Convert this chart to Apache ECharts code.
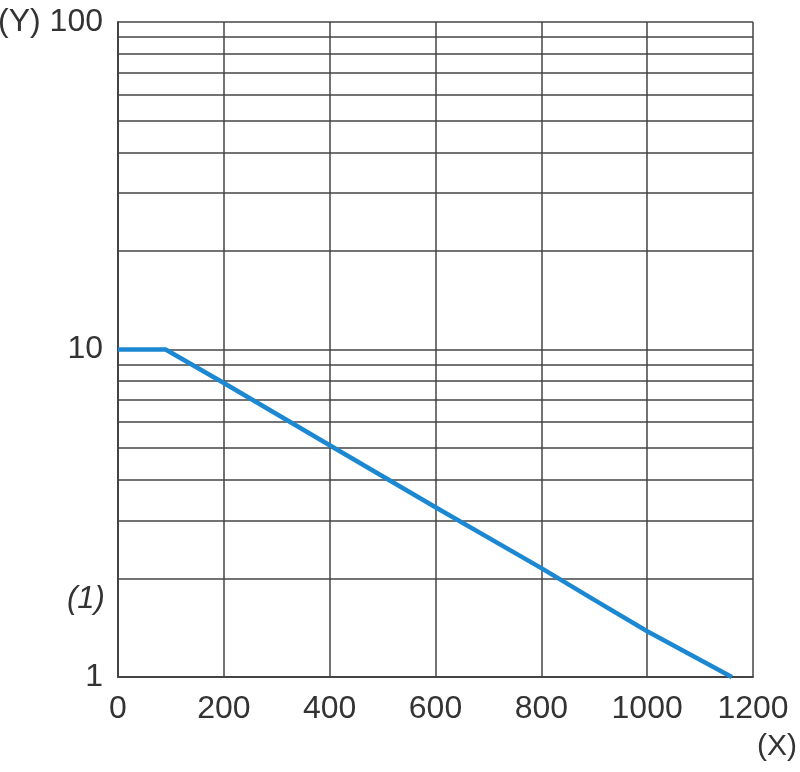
<!DOCTYPE html>
<html>
<head>
<meta charset="utf-8">
<style>
  html, body { margin: 0; padding: 0; background: #fff; }
  #chart { width: 800px; height: 772px; }
</style>
<script src="https://cdn.jsdelivr.net/npm/echarts@6/dist/echarts.min.js"></script>
</head>
<body>
<div id="chart"></div>
<script>
// curve (x, y on log scale)
const curveX = [0, 90, 200, 400, 600, 800, 900, 1000, 1160]
const curveY = [10, 10, 7.9, 5.1, 3.3, 2.15, 1.72, 1.38, 1]
// horizontal grid lines between the decades
const minorGridValues = [2, 3, 4, 5, 6, 7, 8, 9, 20, 30, 40, 50, 60, 70, 80, 90]
const xTicks = [0, 200, 400, 600, 800, 1000, 1200]
const yTicks = [1, 10, 100]

const textColor = '#333'
const gridColor = '#444'
const fontFamily = '"Liberation Sans", Arial, sans-serif'

const chart = echarts.init(document.getElementById('chart'))

chart.setOption({
  animation: false,
  grid: {
    left: 118,
    right: 47,
    top: 22,
    bottom: 95,
    outerBoundsMode: 'none'
  },
  xAxis: {
    type: 'value',
    min: xTicks[0],
    max: xTicks[xTicks.length - 1],
    interval: 200,
    axisLine: { show: true, lineStyle: { color: gridColor, width: 2 } },
    axisTick: { show: false },
    splitLine: { show: true, lineStyle: { color: gridColor, width: 1.5 } },
    axisLabel: {
      color: textColor,
      fontSize: 32,
      fontFamily,
      margin: 16,
      formatter: v => String(v)
    }
  },
  yAxis: {
    type: 'log',
    logBase: 10,
    min: yTicks[0],
    max: yTicks[yTicks.length - 1],
    axisLine: { show: true, lineStyle: { color: gridColor, width: 2 } },
    axisTick: { show: false },
    splitLine: { show: true, lineStyle: { color: gridColor, width: 1.5 } },
    axisLabel: {
      color: textColor,
      fontSize: 32,
      fontFamily,
      margin: 15,
      formatter: v => (v === 100 ? '(Y) 100' : String(v))
    }
  },
  graphic: [
    {
      type: 'text',
      right: 3,
      top: 732,
      style: { text: '(X)', fill: textColor, font: '30px ' + fontFamily }
    },
    {
      type: 'text',
      left: 67,
      top: 584,
      style: { text: '(1)', fill: textColor, font: 'italic 31px ' + fontFamily }
    }
  ],
  series: [
    {
      type: 'line',
      silent: true,
      data: [],
      markLine: {
        silent: true,
        symbol: 'none',
        label: { show: false },
        lineStyle: { color: gridColor, width: 1.5, type: 'solid' },
        data: minorGridValues.map(v => ({ yAxis: v }))
      }
    },
    {
      type: 'line',
      data: curveX.map((x, i) => [x, curveY[i]]),
      showSymbol: false,
      lineStyle: { color: '#1d88d2', width: 4.5 },
      z: 5
    }
  ]
})
</script>
</body>
</html>
